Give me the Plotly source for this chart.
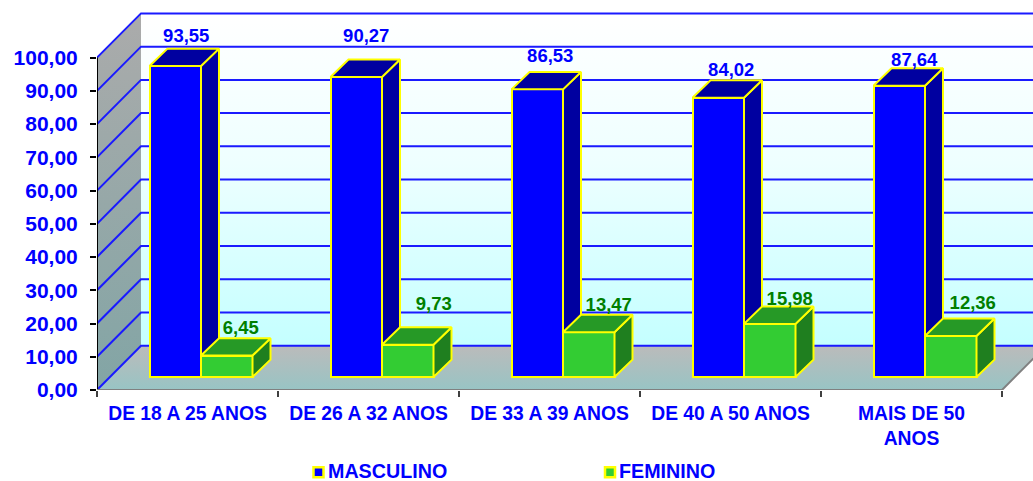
import plotly.graph_objects as go

# ---- data ----
categories = ["DE 18 A 25 ANOS", "DE 26 A 32 ANOS", "DE 33 A 39 ANOS", "DE 40 A 50 ANOS", "MAIS DE 50<br>ANOS"]
masculino = [93.55, 90.27, 86.53, 84.02, 87.64]
feminino = [6.45, 9.73, 13.47, 15.98, 12.36]
y_ticks = [0, 10, 20, 30, 40, 50, 60, 70, 80, 90, 100]
y_tick_labels = ["0,00", "10,00", "20,00", "30,00", "40,00", "50,00", "60,00", "70,00", "80,00", "90,00", "100,00"]

# ---- geometry (scale of the axes and oblique projection) ----
W, H = 1033, 481
LEFT, BOTTOM = 97, 390
PX_PER_CAT = 181.0
PX_PER_UNIT = 3.324
DEPTH_X, DEPTH_Y = 44.0, 44.2


def ux(px):
    return px / PX_PER_CAT


def uy(px):
    return px / PX_PER_UNIT


FULL_DX, FULL_DY = ux(DEPTH_X), uy(DEPTH_Y)
X_END = len(categories)
BAR_W = ux(51.5)
BAR_DX, BAR_DY = ux(18), uy(17.4)
FRONT_DX, FRONT_DY = ux(13), uy(13)
BAR_START = ux(39.5) + FRONT_DX

BLUE = "#0000FF"
GREEN_TXT = "#007F00"
GRID = "#1A1AFF"
YELLOW = "#FFFF00"
FONT = "Liberation Sans"

fig = go.Figure()


def poly(xs, ys, color=None, gradient=None, line=None, z=0):
    t = dict(x=xs + xs[:1], y=ys + ys[:1], mode="lines", fill="toself", hoverinfo="skip",
             showlegend=False, zorder=z, line=dict(color=line or "rgba(0,0,0,0)", width=2 if line else 0))
    if gradient:
        t["fillgradient"] = dict(type="vertical", colorscale=gradient)
        t["fillcolor"] = "rgba(0,0,0,0)"
    else:
        t["fillcolor"] = color
    fig.add_trace(go.Scatter(**t))


# back wall
poly([FULL_DX, X_END + FULL_DX, X_END + FULL_DX, FULL_DX],
     [FULL_DY, FULL_DY, 100 + FULL_DY, 100 + FULL_DY],
     gradient=[[0, "#C4FFFF"], [0.55, "#EEFFFF"], [1, "#FFFFFF"]])
# left wall
poly([0, FULL_DX, FULL_DX, 0], [0, FULL_DY, 100 + FULL_DY, 100],
     gradient=[[0, "#82A5A5"], [1, "#ABABAB"]])
# floor
poly([0, X_END, X_END + FULL_DX, FULL_DX], [0, 0, FULL_DY, FULL_DY],
     gradient=[[0, "#98C4C4"], [1, "#BBBBBB"]])

# grid lines over left and back wall
gx, gy = [], []
for v in y_ticks:
    gx += [0, FULL_DX, X_END + FULL_DX, None]
    gy += [v, v + FULL_DY, v + FULL_DY, None]
fig.add_trace(go.Scatter(x=gx, y=gy, mode="lines", line=dict(color=GRID, width=2),
                         hoverinfo="skip", showlegend=False))

# axis lines and floor edge
fig.add_trace(go.Scatter(x=[0, 0], y=[0, 100], mode="lines", line=dict(color="#000000", width=2),
                         hoverinfo="skip", showlegend=False, cliponaxis=False))
fig.add_trace(go.Scatter(x=[0, X_END, X_END + FULL_DX], y=[0, 0, FULL_DY], mode="lines",
                         line=dict(color="#808080", width=2),
                         hoverinfo="skip", showlegend=False, cliponaxis=False))


def series(name, values, offset, front, top, side, z):
    lefts = [i + BAR_START + offset for i in range(len(values))]
    fig.add_trace(go.Bar(
        x=[l + BAR_W / 2 for l in lefts], y=values, base=[FRONT_DY] * len(values), width=BAR_W,
        name=name, marker=dict(color=front, line=dict(color=YELLOW, width=2)),
        hoverinfo="skip", zorder=z, showlegend=False))
    for l, v in zip(lefts, values):
        b, t, r = FRONT_DY, FRONT_DY + v, l + BAR_W
        poly([r, r + BAR_DX, r + BAR_DX, r], [b, b + BAR_DY, t + BAR_DY, t], color=side, line=YELLOW, z=z)
        poly([l, r, r + BAR_DX, l + BAR_DX], [t, t, t + BAR_DY, t + BAR_DY], color=top, line=YELLOW, z=z)


series("MASCULINO", masculino, 0, BLUE, "#0000A0", "#0000A0", 1)
series("FEMININO", feminino, BAR_W, "#33CC33", "#269926", "#1F7F1F", 2)

# value labels: hand-placed offsets (px) from the top centre of the front face
blue_off = [(11, 28.6), (10, 40), (13, 32), (13, 26), (15, 24.5)]
green_off = [(14, 26), (26, 39), (20, 26), (20, 24), (22, 32)]


def labels(values, offset, color, offs):
    fig.add_trace(go.Scatter(
        x=[i + BAR_START + offset + BAR_W / 2 + ux(o[0]) for i, o in enumerate(offs)],
        y=[v + FRONT_DY + uy(o[1]) for v, o in zip(values, offs)],
        text=[f"{v:.2f}".replace(".", ",") for v in values],
        mode="text", textposition="middle center",
        textfont=dict(family=FONT, size=18.5, color=color, weight=700),
        hoverinfo="skip", showlegend=False, cliponaxis=False, zorder=3))


labels(masculino, 0, BLUE, blue_off)
labels(feminino, BAR_W, GREEN_TXT, green_off)


# key below the plot, in its own strip of axes: tight swatch + label pairs
def key(name, swatch_px, text_px, color):
    fig.add_trace(go.Scatter(
        x=[ux(swatch_px - LEFT)], y=[uy(BOTTOM - 472.3)], mode="markers",
        marker=dict(symbol="square", size=10, color=color, line=dict(color=YELLOW, width=2.5)),
        hoverinfo="skip", showlegend=False, cliponaxis=False, xaxis="x2", yaxis="y2"))
    fig.add_trace(go.Scatter(
        x=[ux(text_px - LEFT)], y=[uy(BOTTOM - 473)], mode="text", text=[name],
        textposition="middle right",
        textfont=dict(family=FONT, size=19.7, color=BLUE, weight=700),
        hoverinfo="skip", showlegend=False, cliponaxis=False, xaxis="x2", yaxis="y2"))


key("MASCULINO", 318.5, 328, BLUE)
key("FEMININO", 610, 619, "#33CC33")

x_range = [0, (W - LEFT) / PX_PER_CAT]
split = (H - BOTTOM) / H

fig.update_layout(
    width=W, height=H, margin=dict(l=LEFT, r=0, t=0, b=0, autoexpand=False),
    paper_bgcolor="white", plot_bgcolor="rgba(0,0,0,0)",
    barmode="overlay",
    bargap=0,
    showlegend=False,
    xaxis=dict(range=x_range, showgrid=False, zeroline=False, showline=False,
               automargin=False, anchor="y",
               tickmode="array", tickvals=[i + 0.5 for i in range(len(categories))], ticktext=categories,
               ticks="", tickangle=0, ticklabelstandoff=10,
               tickfont=dict(family=FONT, size=19.3, color=BLUE, weight=700),
               minor=dict(tickmode="array", tickvals=list(range(len(categories) + 1)), ticks="outside",
                          ticklen=6, tickwidth=2, tickcolor="#404040", showgrid=False)),
    yaxis=dict(range=[0, BOTTOM / PX_PER_UNIT], domain=[split, 1], showgrid=False, zeroline=False, showline=False,
               automargin=False, anchor="x",
               tickmode="array", tickvals=y_ticks, ticktext=y_tick_labels,
               ticks="outside", ticklen=6, tickwidth=2, tickcolor="#000000",
               ticklabelstandoff=8,
               tickfont=dict(family=FONT, size=21, color=BLUE, weight=700)),
    xaxis2=dict(range=x_range, visible=False, anchor="y2"),
    yaxis2=dict(range=[uy(BOTTOM - H), 0], domain=[0, split], visible=False, anchor="x2"),
)

fig.write_html("out.html", config={"displayModeBar": False},
               post_script="document.body.style.margin='0';document.body.style.overflow='hidden';")
